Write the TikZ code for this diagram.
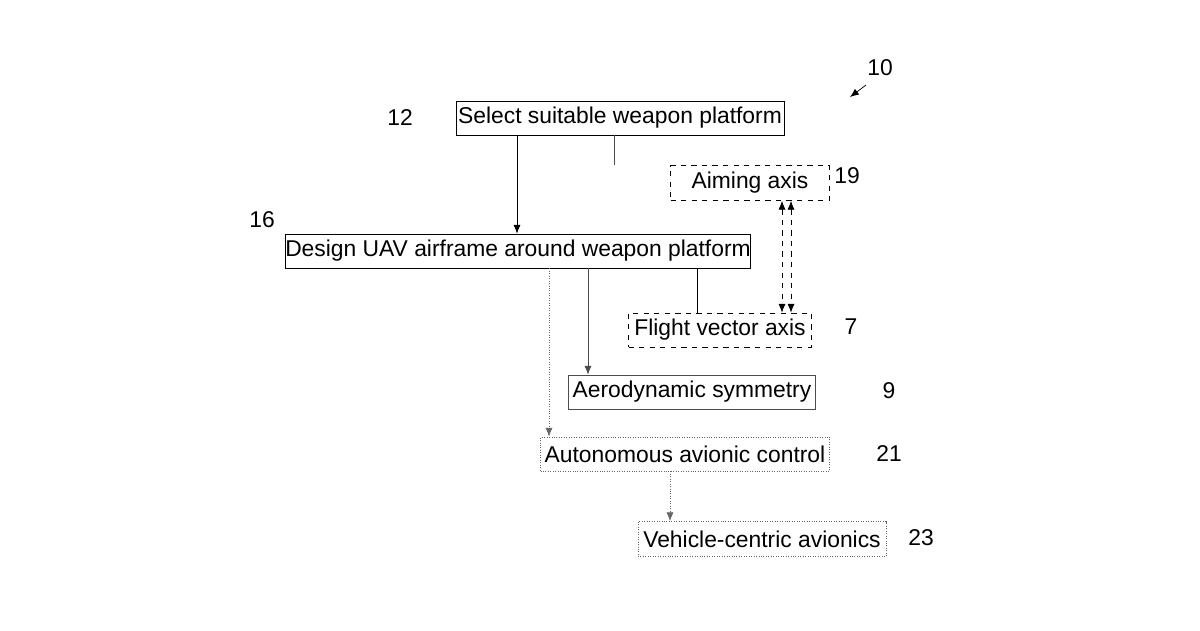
\documentclass[tikz,border=0pt]{standalone}
\usepackage{fontspec}
\setmainfont{Liberation Sans}
\usetikzlibrary{arrows.meta}

\tikzset{
  plainbox/.style={draw, thin, inner sep=0pt, font=\fontsize{13}{15}\selectfont},
  dashbox/.style={plainbox, dashed},
  dotbox/.style={plainbox, draw=black!60, densely dotted},
  reflabel/.style={font=\fontsize{13}{15}\selectfont},
  arr/.style={-{Latex[length=5pt,width=4pt]}, thin},
}

\begin{document}
\begin{tikzpicture}[x=0.02cm,y=-0.02cm]
\useasboundingbox (0,0) rectangle (1200,630);

% boxes
\node[plainbox, minimum width=328\pgflinewidth*0+6.56cm, minimum height=0.68cm] (select) at (620,118) {Select suitable weapon platform};
\node[dashbox, minimum width=3.18cm, minimum height=0.7cm] (aim) at (750,183) {Aiming axis};
\node[plainbox, minimum width=9.28cm, minimum height=0.68cm] (design) at (518,251) {Design UAV airframe around weapon platform};
\node[dashbox, minimum width=3.66cm, minimum height=0.68cm] (flight) at (720,330) {Flight vector axis};
\node[plainbox, draw=black!70, minimum width=4.94cm, minimum height=0.68cm] (aero) at (692,392) {Aerodynamic symmetry};
\node[dotbox, minimum width=5.78cm, minimum height=0.68cm] (auto) at (685,454) {Autonomous avionic control};
\node[dotbox, minimum width=4.96cm, minimum height=0.7cm] (vehicle) at (762,539) {Vehicle-centric avionics};

% reference numerals
\node[reflabel] (n10) at (880,68) {10};
\node[reflabel] (n12) at (400,118) {12};
\node[reflabel] (n19) at (847,176) {19};
\node[reflabel] (n16) at (262,220) {16};
\node[reflabel] (n7) at (851,327) {7};
\node[reflabel] (n9) at (889,391) {9};
\node[reflabel] (n21) at (889,454) {21};
\node[reflabel] (n23) at (921,538) {23};
\coordinate (p10) at (850,97);
\draw[arr] (866,85) -- (p10);

% connectors
\draw[arr] (select.south -| 517,0) -- (design.north -| 517,0);
\draw[thin, black!70] (select.south -| aim.170) ++(-56,0) coordinate (s1) -- (aim.north -| s1);
\draw[thin] (design.south -| 697,0) -- (flight.north -| 697,0);
\draw[arr, dashed, {Latex[length=5pt,width=4pt]}-{Latex[length=5pt,width=4pt]}] (aim.south -| 782,0) -- (flight.north -| 782,0);
\draw[arr, dashed, {Latex[length=5pt,width=4pt]}-{Latex[length=5pt,width=4pt]}] (aim.south -| 791,0) -- (flight.north -| 791,0);
\draw[arr, black!70] (design.south -| 588,0) -- (aero.north -| 588,0);
\draw[arr, black!60, densely dotted] (design.south -| 549,0) -- (auto.north -| 549,0);
\draw[arr, black!60, densely dotted] (auto.south -| 670,0) -- (vehicle.north -| 670,0);
\end{tikzpicture}
\end{document}
